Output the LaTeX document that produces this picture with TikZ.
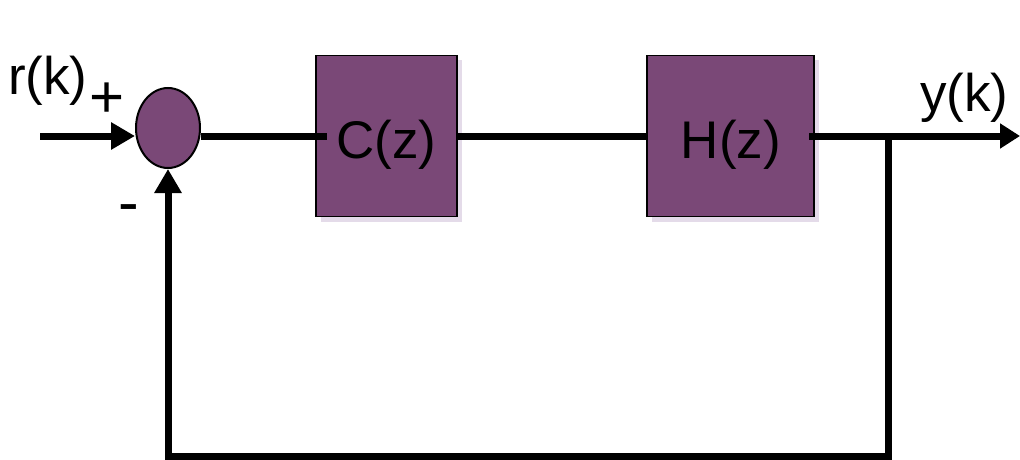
\documentclass[tikz,border=0pt]{standalone}
\usepackage{fontspec}
\setmainfont{Liberation Sans}
\usetikzlibrary{arrows.meta,shapes.geometric,shadows}
\definecolor{boxpurple}{HTML}{7A4877}
\definecolor{shadowpurple}{HTML}{D9CCE0}
\begin{document}
\begin{tikzpicture}[x=1pt,y=-1pt,
  blockbox/.style={draw=black,line width=1.5pt,fill=boxpurple,minimum height=161pt,
    drop shadow={shadow xshift=5pt,shadow yshift=-5pt,fill=shadowpurple,opacity=0.7},inner sep=0pt},
  sumnode/.style={ellipse,draw=black,line width=2pt,fill=boxpurple,minimum width=64pt,minimum height=80pt,inner sep=0pt},
  sig/.style={line width=7pt},
  sigarrow/.style={sig,-{Triangle[length=24pt,width=26pt]}},
  lbl/.style={font=\fontsize{53}{63}\selectfont,inner sep=0pt,anchor=base west}
]
\useasboundingbox (0,0) rectangle (1020,460);
% blocks
\node[sumnode] (sum) at (168,128) {};
\node[blockbox,minimum width=141pt] (C) at (386.5,136) {};
\node[blockbox,minimum width=167pt] (H) at (730.5,136) {};
\node[lbl,anchor=base] (Ct) at (386.5,158) {C(z)};
\node[lbl,anchor=base] (Ht) at (731,158) {H(z)};
% labels
\node[lbl] (rk) at (8,95) {r(k)};
\node[lbl,font=\fontsize{60}{70}\selectfont,anchor=center] (plus) at (107,100) {+};
\node[lbl,font=\fontsize{62}{72}\selectfont,anchor=center] (minus) at (129,214) {-};
\node[lbl] (yk) at (920,111) {y(k)};
% coordinates
\coordinate (in) at (40,136);
\coordinate (cin) at (327,136);
\coordinate (hout) at (809,136);
\coordinate (out) at (1020,136);
\coordinate (br) at (888,136);
\coordinate (bot) at (888,456);
% connectors
\draw[sigarrow] (in) -- (in -| sum.west);
\draw[sig] (sum.east |- cin) -- (cin);
\draw[sig] (C.east) -- (H.west);
\draw[sigarrow,-{Triangle[length=20pt,width=24pt]}] (hout) -- (out);
\draw[sigarrow] (br) -- (bot) -- (sum |- bot) -- (sum.south);
\end{tikzpicture}
\end{document}
